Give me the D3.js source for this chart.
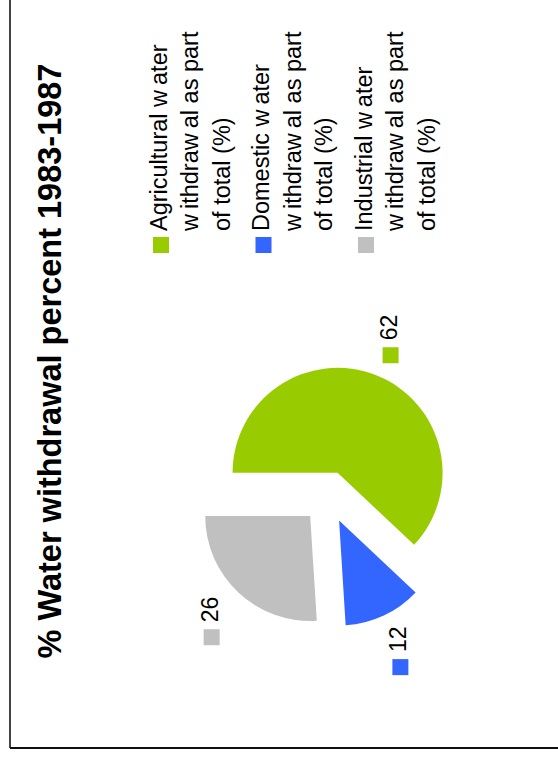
<!DOCTYPE html>
<html>
<head>
<meta charset="utf-8">
<script src="https://cdn.jsdelivr.net/npm/d3@7"></script>
<style>
  html, body { margin: 0; padding: 0; background: #fff; }
  svg { display: block; }
  text { font-family: "Liberation Sans", Arial, sans-serif; fill: #000; }
</style>
</head>
<body>
<svg id="chart" width="558" height="758"></svg>
<script>
// Water withdrawal shares, 1983-1987
const chartTitle = "% Water withdrawal percent 1983-1987";
const categories = ["Agricultural", "Domestic", "Industrial"];
const values = [62, 12, 26];
const colors = ["#99cc00", "#3366ff", "#c0c0c0"];
const legendLines = [
  ["Agricultural water", "withdrawal as part", "of total (%)"],
  ["Domestic water", "withdrawal as part", "of total (%)"],
  ["Industrial water", "withdrawal as part", "of total (%)"]
];

// The chart is laid out in a 758 x 558 frame, then turned a quarter turn
// counter-clockwise to fit the portrait page.
const pageW = 558, pageH = 758;
const frameW = pageH, frameH = pageW;

const svg = d3.select("#chart");
const g = svg.append("g")
  .attr("transform", `translate(0,${pageH}) rotate(-90)`);

// frame border (only its top and left edges fall inside the page)
g.append("line").attr("x1", 10).attr("x2", frameW + 40).attr("y1", 10).attr("y2", 10)
  .attr("stroke", "#444").attr("stroke-width", 2);
g.append("line").attr("x1", 10).attr("x2", 10).attr("y1", 10).attr("y2", frameH + 40)
  .attr("stroke", "#111").attr("stroke-width", 2);

// title
g.append("text")
  .attr("x", 397).attr("y", 61)
  .attr("text-anchor", "middle")
  .style("font-size", "32.5px").style("font-weight", "bold")
  .text(chartTitle);

// exploded pie
const cx = 261, cy = 328, radius = 105, explode = 26, labelRadius = 170;
const pie = d3.pie().sort(null).value(d => d.value)
  .startAngle(0).endAngle(2 * Math.PI);
const data = categories.map((c, i) => ({ name: c, value: values[i], color: colors[i] }));
const arcs = pie(data);
const arc = d3.arc().innerRadius(0).outerRadius(radius);
const labelArc = d3.arc().innerRadius(labelRadius).outerRadius(labelRadius);

const pieG = g.append("g").attr("transform", `translate(${cx},${cy})`);
pieG.selectAll("path.slice").data(arcs).join("path")
  .attr("class", "slice")
  .attr("d", arc)
  .attr("fill", d => d.data.color)
  .attr("transform", d => {
    const a = (d.startAngle + d.endAngle) / 2;
    return `translate(${explode * Math.sin(a)},${-explode * Math.cos(a)})`;
  });

// value labels: a colour chip followed by the value, centred on the label arc
const sq = 16, gap = 7;
arcs.forEach(d => {
  const [lx, ly] = labelArc.centroid(d);
  const lg = pieG.append("g");
  const t = lg.append("text")
    .style("font-size", "23px")
    .text(d.data.value);
  const tw = t.node().getComputedTextLength();
  const total = sq + gap + tw;
  const x0 = lx - total / 2;
  lg.append("rect")
    .attr("x", x0).attr("y", ly - sq / 2)
    .attr("width", sq).attr("height", sq)
    .attr("fill", d.data.color);
  t.attr("x", x0 + sq + gap).attr("y", ly + 6);
});

// legend; the renderer leaves a loose gap after each "w"
const legX = 505, legY = 153, entryStep = 102.5, lineStep = 31.5, wGap = 5;
const legend = g.append("g");
categories.forEach((c, i) => {
  const y0 = legY + i * entryStep;
  legend.append("rect")
    .attr("x", legX).attr("y", y0)
    .attr("width", sq).attr("height", sq)
    .attr("fill", colors[i]);
  const t = legend.append("text")
    .style("font-size", "23.5px");
  legendLines[i].forEach((line, j) => {
    const parts = line.split(/(?<=w)/);
    parts.forEach((p, k) => {
      const ts = t.append("tspan").text(p);
      if (k === 0) {
        ts.attr("x", legX + sq + 6).attr("y", y0 + 13.5 + j * lineStep);
      } else {
        ts.attr("dx", wGap);
      }
    });
  });
});
</script>
</body>
</html>
